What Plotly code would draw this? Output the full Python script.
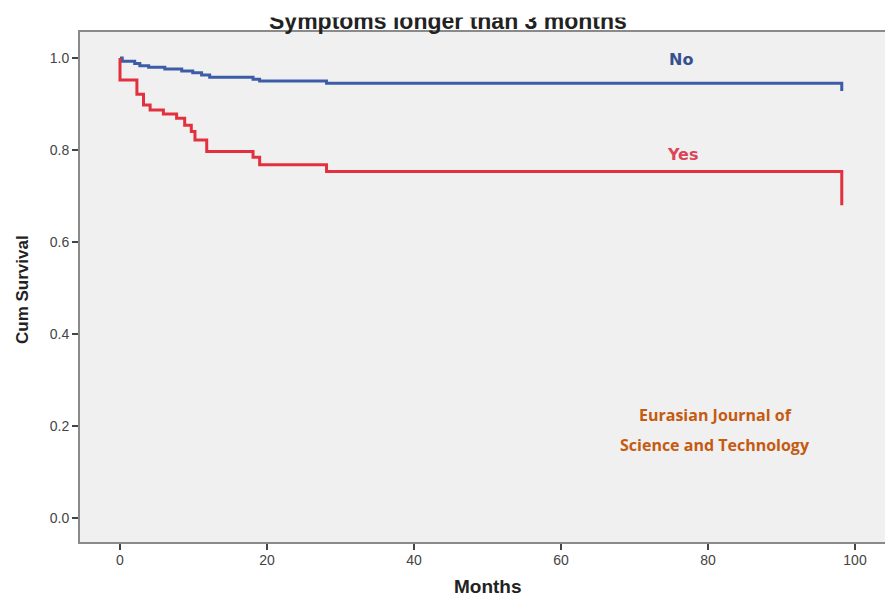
import plotly.graph_objects as go

# Kaplan-Meier step data (months, cumulative survival)
months_no = [0, 0.3, 2.0, 2.7, 3.9, 6.1, 8.4, 9.9, 11.1, 12.2, 18.1, 19.0, 28.1, 98.2]
surv_no = [1.0, 0.993, 0.988, 0.983, 0.980, 0.976, 0.972, 0.968, 0.963, 0.958, 0.954, 0.950, 0.945, 0.928]

months_yes = [0, 0, 2.3, 3.2, 4.1, 5.9, 7.7, 8.8, 9.7, 10.2, 11.8, 18.1, 19.0, 28.1, 98.2]
surv_yes = [1.0, 0.952, 0.921, 0.898, 0.887, 0.878, 0.869, 0.854, 0.840, 0.822, 0.797, 0.784, 0.768, 0.753, 0.680]

x_ticks = [0, 20, 40, 60, 80, 100]
y_ticks = [0.0, 0.2, 0.4, 0.6, 0.8, 1.0]
y_tick_labels = ["0.0", "0.2", "0.4", "0.6", "0.8", "1.0"]

title_text = "Symptoms longer than 3 months"
x_title = "Months"
y_title = "Cum Survival"
watermark = ["Eurasian Journal of", "Science and Technology"]

BLUE = "#3d5ca8"
RED = "#e3303f"

W, H = 885, 598
L, R, T = 80, 0, 32
B = H - 542
pw, ph = W - L - R, H - T - B


def px(xs):
    return (xs - L) / pw


def py(ys):
    return (H - B - ys) / ph


annotations = [
    dict(x=76.3, y=0.996, xref="x", yref="y", text="<b>No</b>", showarrow=False,
         xanchor="center", yanchor="middle",
         font=dict(family="DejaVu Sans", size=16, color="#34508f")),
    dict(x=76.6, y=0.791, xref="x", yref="y", text="<b>Yes</b>", showarrow=False,
         xanchor="center", yanchor="middle",
         font=dict(family="DejaVu Sans", size=16, color="#dc4454")),
    dict(x=81.0, y=0.224, xref="x", yref="y", text="<b>" + watermark[0] + "</b>", showarrow=False,
         xanchor="center", yanchor="middle",
         font=dict(family="Open Sans", size=16, color="#c55a11")),
    dict(x=81.0, y=0.159, xref="x", yref="y", text="<b>" + watermark[1] + "</b>", showarrow=False,
         xanchor="center", yanchor="middle",
         font=dict(family="Open Sans", size=16, color="#c55a11")),
    dict(x=px(448), y=py(21), xref="paper", yref="paper", text="<b>" + title_text + "</b>",
         showarrow=False, xanchor="center", yanchor="middle",
         font=dict(family="Liberation Sans", size=23, color="#222222")),
    # white band hiding the top of the title (as in the source image)
    dict(x=px(448), y=py(0), xref="paper", yref="paper", text=" ", showarrow=False,
         yanchor="top", xanchor="center", width=460, height=16, bgcolor="white",
         borderpad=0, font=dict(size=4)),
    dict(x=px(488), y=py(586), xref="paper", yref="paper", text="<b>" + x_title + "</b>",
         showarrow=False, xanchor="center", yanchor="middle",
         font=dict(family="Liberation Sans", size=19, color="#222222")),
    dict(x=px(22), y=py(290), xref="paper", yref="paper", text="<b>" + y_title + "</b>",
         showarrow=False, textangle=-90, xanchor="center", yanchor="middle",
         font=dict(family="Liberation Sans", size=17, color="#222222")),
]

x0 = (80 - 120) / 7.35
x1 = (885 - 120) / 7.35
y0 = (518 - 542) / 460
y1 = (518 - 32) / 460

fig = go.Figure()
fig.add_trace(go.Scatter(x=months_no, y=surv_no, mode="lines", line_shape="hv",
                         line=dict(color=BLUE, width=3), name="No", showlegend=False,
                         hoverinfo="skip"))
fig.add_trace(go.Scatter(x=months_yes, y=surv_yes, mode="lines", line_shape="hv",
                         line=dict(color=RED, width=3), name="Yes", showlegend=False,
                         hoverinfo="skip"))

fig.update_layout(
    width=W, height=H,
    margin=dict(l=L, r=R, t=T, b=B, pad=0),
    paper_bgcolor="white",
    plot_bgcolor="#f0f0f0",
    showlegend=False,
    annotations=annotations,
    xaxis=dict(range=[x0, x1], tickmode="array", tickvals=x_ticks,
               ticks="outside", ticklen=6, tickwidth=2, tickcolor="#444444",
               showline=True, linecolor="#8a8a8a", linewidth=2, mirror=True,
               showgrid=False, zeroline=False, ticklabelstandoff=-2,
               tickfont=dict(family="Liberation Sans", size=14, color="#444444")),
    yaxis=dict(range=[y0, y1], tickmode="array", tickvals=y_ticks, ticktext=y_tick_labels,
               ticks="outside", ticklen=6, tickwidth=2, tickcolor="#444444",
               showline=True, linecolor="#8a8a8a", linewidth=2,
               showgrid=False, zeroline=False,
               tickfont=dict(family="Liberation Sans", size=14, color="#444444")),
)

fig.write_html("out.html",
               config={"displayModeBar": False},
               post_script="document.body.style.margin='0px';"
                           "document.body.style.overflow='hidden';")
